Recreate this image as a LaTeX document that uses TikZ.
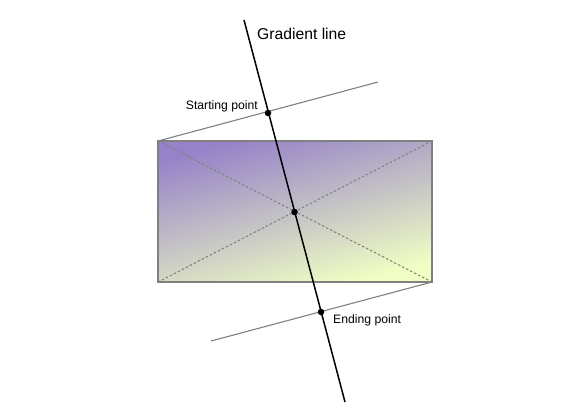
\documentclass[tikz,border=0pt]{standalone}
\usepackage{fontspec}
\setmainfont{Liberation Sans}
\definecolor{gtop}{RGB}{150,130,200}
\definecolor{gbot}{RGB}{240,255,195}
\definecolor{edge}{RGB}{128,128,128}
\tikzset{
  thinline/.style={draw=edge, line width=1.1pt},
  diag/.style={draw=edge, line width=1pt, dash pattern=on 2.5pt off 2pt},
  gline/.style={draw=black, line width=1.5pt},
  pt/.style={circle, fill=black, inner sep=0pt, minimum size=6.5pt},
  lbl/.style={font=\fontsize{12.2}{14}\selectfont, inner sep=1pt},
}
\begin{document}
\begin{tikzpicture}[x=1pt,y=-1pt]
\useasboundingbox (0,0) rectangle (576,418);
% rectangle
\coordinate (tl) at (158,141);
\coordinate (tr) at (432,141);
\coordinate (bl) at (158,282);
\coordinate (br) at (432,282);
\shade[top color=gtop, bottom color=gbot, shading angle=14.8] (tl) rectangle (br);
\draw[thinline] (tl) rectangle (br);
\draw[diag] (tl) -- (br);
\draw[diag] (tr) -- (bl);
% perpendicular lines
\coordinate (s2) at (378,82);
\coordinate (e2) at (211,341);
\draw[thinline] (tl) -- (s2);
\draw[thinline] (br) -- (e2);
% gradient line
\coordinate (gtopc) at (244,20);
\coordinate (gbotc) at (345,402);
\draw[gline] (gtopc) -- (gbotc);
\node[pt] (sp) at (268,113) {};
\node[pt] (cp) at (294.5,212) {};
\node[pt] (ep) at (321,312) {};
\node[font=\fontsize{15.7}{18}\selectfont, anchor=west, inner sep=0pt] (gl) at (257,34) {Gradient line};
\node[lbl, anchor=east] (sl) at (259,106) {Starting point};
\node[lbl, anchor=west] (el) at (332,320) {Ending point};
\end{tikzpicture}
\end{document}
